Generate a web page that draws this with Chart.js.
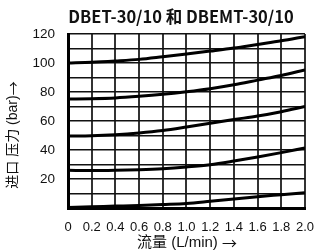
<!DOCTYPE html>
<html lang="zh">
<head>
    <meta charset="UTF-8">
    <title>DBET-30/10 和 DBEMT-30/10</title>
    <script src="https://cdn.jsdelivr.net/npm/chart.js"></script>
    <style>
        body { margin: 0; background: #fff; }
        .chart-box { width: 326px; height: 252px; }
    </style>
</head>
<body>
    <div class="chart-box">
        <canvas id="pressureChart"></canvas>
    </div>

    <script>
        // flow (L/min) and inlet pressure (bar)
        const flow = [0, 0.2, 0.4, 0.6, 0.8, 1.0, 1.2, 1.4, 1.6, 1.8, 2.0];
        const curve100 = [100, 100.5, 101.4, 102.5, 104.3, 106.2, 108.2, 110.3, 112.8, 115.3, 118.2];
        const curve75 = [75.2, 75.4, 75.9, 77, 78.4, 80.2, 82.3, 85, 88.2, 91.4, 95.2];
        const curve50 = [49.6, 49.8, 50.5, 51.7, 53.4, 55.8, 58.4, 61, 63.4, 66.4, 70];
        const curve25 = [26, 25.8, 26, 26.4, 27.1, 28.3, 29.9, 32.4, 35.2, 38.2, 41.4];
        const curve0 = [0.3, 0.8, 1.3, 1.8, 2.4, 3.1, 4.6, 6.2, 7.8, 9.2, 10.6];

        const xTicks = [0, 0.2, 0.4, 0.6, 0.8, 1.0, 1.2, 1.4, 1.6, 1.8, 2.0];
        const yTicks = [20, 40, 60, 80, 100, 120];

        const titleText = 'DBET-30/10 和 DBEMT-30/10';
        const xTitle = '流量 (L/min) ';
        const yTitle = '进口 压力 (bar)';
        const arrow = '→';

        const toPoints = (ys) => ys.map((y, i) => ({ x: flow[i], y: y }));

        const lineStyle = {
            borderColor: '#000',
            borderWidth: 3,
            pointRadius: 0,
            fill: false,
            cubicInterpolationMode: 'monotone'
        };

        // draw text followed by a wide CJK arrow, centred on (0, 0)
        function labelWithArrow(ctx, text, size) {
            const latin = size + 'px "Liberation Sans", "Noto Sans CJK SC"';
            const cjk = size + 'px "Noto Sans CJK SC"';
            ctx.font = latin;
            const w1 = ctx.measureText(text).width;
            ctx.font = cjk;
            const w2 = ctx.measureText(arrow).width;
            let x = -(w1 + w2) / 2;
            ctx.textAlign = 'left';
            ctx.font = latin;
            ctx.fillText(text, x, 0);
            ctx.font = cjk;
            ctx.fillText(arrow, x + w1, 0);
        }

        // titles drawn by hand so they sit where the original has them
        const textPlugin = {
            id: 'chartTexts',
            afterDraw(chart) {
                const ctx = chart.ctx;
                ctx.save();
                ctx.fillStyle = '#111';
                ctx.textAlign = 'center';
                ctx.textBaseline = 'middle';

                ctx.font = 'bold 16.5px "Noto Sans CJK SC"';
                ctx.fillText(titleText, 181, 17);

                ctx.save();
                ctx.translate(187, 243);
                labelWithArrow(ctx, xTitle, 15);
                ctx.restore();

                ctx.translate(13, 135);
                ctx.rotate(-Math.PI / 2);
                labelWithArrow(ctx, yTitle, 14);
                ctx.restore();
            }
        };

        const ctx = document.getElementById('pressureChart').getContext('2d');
        const pressureChart = new Chart(ctx, {
            type: 'line',
            data: {
                datasets: [
                    { ...lineStyle, data: toPoints(curve100) },
                    { ...lineStyle, data: toPoints(curve75) },
                    { ...lineStyle, data: toPoints(curve50) },
                    { ...lineStyle, data: toPoints(curve25) },
                    { ...lineStyle, data: toPoints(curve0) }
                ]
            },
            options: {
                responsive: true,
                maintainAspectRatio: false,
                animation: false,
                layout: { padding: { top: 34, right: 11, left: 0, bottom: 0 } },
                plugins: {
                    legend: { display: false },
                    tooltip: { enabled: false },
                    title: { display: false }
                },
                scales: {
                    x: {
                        type: 'linear',
                        min: 0,
                        max: 2,
                        afterFit: (scale) => { scale.height = 44; },
                        afterBuildTicks: (scale) => { scale.ticks = xTicks.map(v => ({ value: v })); },
                        ticks: {
                            autoSkip: false,
                            maxRotation: 0,
                            padding: 12,
                            color: '#111',
                            font: { family: '"Liberation Sans"', size: 13 },
                            callback: (v) => v === 0 ? '0' : v.toFixed(1)
                        },
                        grid: { color: '#333', lineWidth: 2, drawTicks: false },
                        border: { color: '#000', width: 3 }
                    },
                    y: {
                        min: 0,
                        max: 120,
                        afterFit: (scale) => { scale.width = 68; },
                        ticks: {
                            stepSize: 10,
                            autoSkip: false,
                            padding: 13,
                            color: '#111',
                            font: { family: '"Liberation Sans"', size: 13.5 },
                            callback: (v) => yTicks.includes(v) ? v : ''
                        },
                        grid: { color: '#111', lineWidth: 1.5, drawTicks: false },
                        border: { color: '#000', width: 3 }
                    }
                }
            },
            plugins: [textPlugin]
        });
    </script>
</body>
</html>
